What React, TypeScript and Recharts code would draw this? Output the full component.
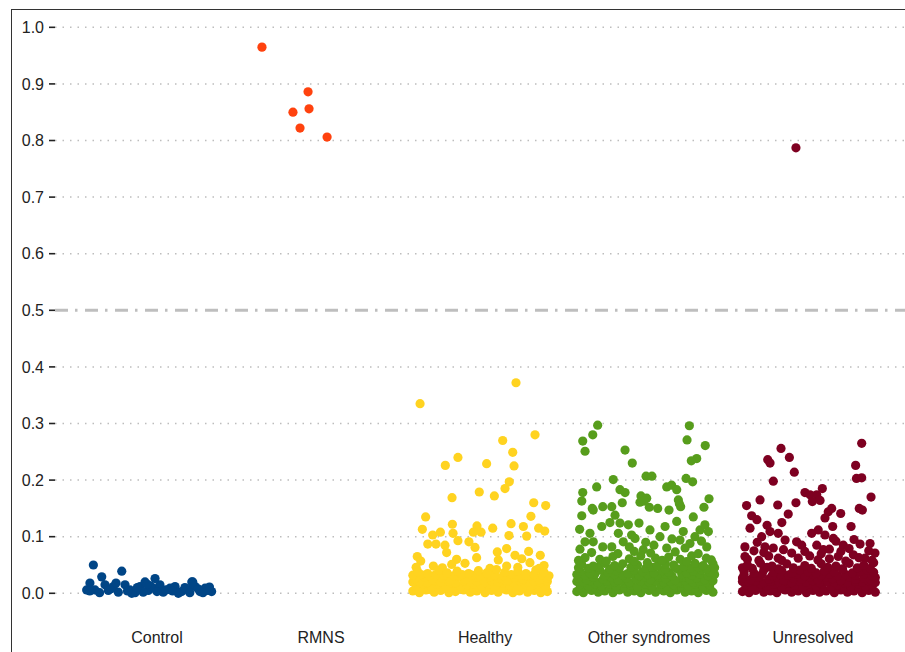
import React from "react";
import { ScatterChart, Scatter, XAxis, YAxis, ReferenceLine } from "recharts";

// categories along the x axis
const categories = ["Control", "RMNS", "Healthy", "Other syndromes", "Unresolved"];
const colors = ["#004586", "#FF420E", "#FFD320", "#579D1C", "#7E0021"];
const yTicks = [0, 0.1, 0.2, 0.3, 0.4, 0.5, 0.6, 0.7, 0.8, 0.9, 1.0];

// [jitter (category units), predicted value]
const control: [number, number][] = [
  [-0.388, 0.05], [-0.215, 0.039], [-0.337, 0.029], [-0.409, 0.018], [-0.429, 0.006],
  [-0.378, 0.006], [-0.317, 0.015], [-0.297, 0.005], [-0.266, 0.012], [-0.236, 0.002],
  [-0.195, 0.015], [-0.165, 0.006], [-0.134, 0.001], [-0.104, 0.012], [-0.073, 0.02],
  [-0.053, 0.005], [-0.012, 0.026], [-0.022, 0.009], [0.018, 0.015], [0.038, 0.002],
  [0.079, 0.009], [0.11, 0.012], [0.15, 0.003], [0.191, 0.006], [0.212, 0.02],
  [0.232, 0.012], [0.262, 0.003], [0.293, 0.009], [0.333, 0.003], [-0.084, 0.002],
  [-0.154, 0.0], [0.13, 0.0], [-0.35, 0.001], [-0.28, 0.008], [-0.25, 0.018],
  [-0.18, 0.004], [-0.12, 0.01], [-0.04, 0.013], [0.0, 0.003], [0.055, 0.006],
  [0.095, 0.004], [0.17, 0.01], [0.2, 0.001], [0.25, 0.008], [0.28, 0.001],
  [0.31, 0.005], [0.32, 0.011], [-0.41, 0.004], [-0.06, 0.016], [0.218, 0.02],
];

const rmns: [number, number][] = [
  [-0.36, 0.965], [-0.171, 0.85], [-0.128, 0.822], [-0.079, 0.886], [-0.073, 0.856], [0.037, 0.806],
];

const healthy: [number, number][] = [
  [0.189, 0.372], [-0.396, 0.335], [0.305, 0.28], [0.108, 0.27], [0.169, 0.249],
  [-0.165, 0.24], [-0.242, 0.226], [0.01, 0.229], [0.177, 0.225], [0.148, 0.197],
  [0.122, 0.185], [-0.035, 0.179], [0.057, 0.172], [-0.201, 0.169], [0.297, 0.16],
  [0.37, 0.155], [-0.362, 0.135], [0.28, 0.136], [-0.382, 0.113], [-0.199, 0.122],
  [-0.049, 0.119], [0.047, 0.115], [0.159, 0.123], [0.234, 0.118], [0.327, 0.115],
  [0.364, 0.11], [-0.319, 0.103], [-0.272, 0.108], [-0.195, 0.106], [-0.071, 0.108],
  [-0.024, 0.108], [0.146, 0.102], [0.254, 0.101], [-0.349, 0.087], [-0.299, 0.087],
  [-0.244, 0.085], [-0.165, 0.093], [-0.098, 0.091], [-0.061, 0.081], [-0.234, 0.072],
  [0.132, 0.079], [0.075, 0.073], [-0.413, 0.065], [0.183, 0.067], [0.266, 0.074],
  [0.337, 0.067], [0.081, 0.059], [-0.173, 0.06], [-0.051, 0.063], [0.224, 0.061],
  [0.274, 0.054], [0.36, 0.049], [-0.392, 0.057], [-0.315, 0.048], [-0.203, 0.051],
  [-0.122, 0.053], [0.03, 0.044], [0.132, 0.048], [-0.42, 0.046], [-0.26, 0.045],
  [0.2, 0.046], [0.33, 0.044],
  [-0.44, 0.004], [-0.4, 0.001], [-0.36, 0.006], [-0.31, 0.002], [-0.27, 0.005],
  [-0.22, 0.001], [-0.18, 0.003], [-0.13, 0.006], [-0.09, 0.002], [-0.05, 0.004],
  [0.0, 0.001], [0.04, 0.005], [0.08, 0.002], [0.13, 0.006], [0.17, 0.001],
  [0.21, 0.004], [0.26, 0.002], [0.3, 0.005], [0.34, 0.001], [0.38, 0.003],
  [-0.42, 0.008], [-0.38, 0.009], [-0.34, 0.007], [-0.29, 0.01], [-0.25, 0.008],
  [-0.2, 0.009], [-0.16, 0.007], [-0.11, 0.01], [-0.07, 0.008], [-0.03, 0.009],
  [0.02, 0.007], [0.06, 0.01], [0.1, 0.008], [0.15, 0.009], [0.19, 0.007],
  [0.23, 0.01], [0.28, 0.008], [0.32, 0.009], [0.36, 0.007],
  [-0.42, 0.014], [-0.38, 0.017], [-0.33, 0.012], [-0.29, 0.016], [-0.24, 0.013],
  [-0.2, 0.018], [-0.15, 0.012], [-0.11, 0.015], [-0.07, 0.017], [-0.02, 0.013],
  [0.02, 0.016], [0.06, 0.012], [0.11, 0.018], [0.15, 0.014], [0.19, 0.012],
  [0.24, 0.017], [0.28, 0.013], [0.32, 0.016], [0.37, 0.012],
  [-0.44, 0.02], [-0.4, 0.021], [-0.35, 0.019], [-0.31, 0.022], [-0.27, 0.02],
  [-0.22, 0.021], [-0.18, 0.019], [-0.13, 0.022], [-0.09, 0.02], [-0.05, 0.021],
  [0.0, 0.019], [0.04, 0.022], [0.08, 0.02], [0.13, 0.021], [0.17, 0.019],
  [0.21, 0.022], [0.26, 0.02], [0.3, 0.021], [0.34, 0.019], [0.38, 0.021],
  [-0.43, 0.026], [-0.37, 0.029], [-0.32, 0.024], [-0.26, 0.027], [-0.21, 0.023],
  [-0.16, 0.03], [-0.12, 0.025], [-0.06, 0.028], [-0.01, 0.024], [0.03, 0.029],
  [0.09, 0.026], [0.14, 0.023], [0.18, 0.028], [0.23, 0.025], [0.27, 0.03],
  [0.33, 0.024], [0.38, 0.027],
  [-0.44, 0.032], [-0.39, 0.033], [-0.34, 0.031], [-0.3, 0.033], [-0.25, 0.032],
  [-0.19, 0.031], [-0.14, 0.033], [-0.08, 0.032], [-0.03, 0.031], [0.02, 0.033],
  [0.06, 0.032], [0.11, 0.031], [0.16, 0.033], [0.21, 0.032], [0.25, 0.031],
  [0.3, 0.033], [0.35, 0.032], [0.39, 0.031],
  [-0.41, 0.038], [-0.35, 0.035], [-0.28, 0.041], [-0.23, 0.036], [-0.17, 0.039],
  [-0.1, 0.035], [-0.04, 0.04], [0.01, 0.036], [0.07, 0.042], [0.12, 0.037],
  [0.2, 0.039], [0.25, 0.035], [0.31, 0.041], [0.36, 0.037],
];

const otherSyndromes: [number, number][] = [
  [-0.313, 0.297], [0.246, 0.296], [-0.343, 0.28], [-0.404, 0.269], [-0.39, 0.251],
  [0.232, 0.271], [0.343, 0.261], [-0.146, 0.253], [-0.102, 0.23], [0.291, 0.238],
  [0.258, 0.234], [-0.018, 0.207], [0.018, 0.207], [-0.218, 0.201], [0.226, 0.203],
  [0.266, 0.197], [-0.319, 0.188], [-0.404, 0.178], [-0.177, 0.183], [-0.146, 0.178],
  [0.108, 0.188], [0.138, 0.191], [0.169, 0.183], [-0.049, 0.172], [-0.014, 0.168],
  [-0.41, 0.163], [-0.163, 0.16], [-0.055, 0.161], [0.179, 0.165], [0.366, 0.167],
  [-0.346, 0.15], [-0.282, 0.153], [-0.227, 0.153], [0.002, 0.152], [0.053, 0.15],
  [0.122, 0.147], [0.193, 0.153], [0.335, 0.152], [0.185, 0.158], [-0.03, 0.163],
  [-0.41, 0.137], [-0.34, 0.147], [-0.207, 0.138], [-0.288, 0.118], [-0.238, 0.125],
  [-0.177, 0.124], [-0.126, 0.121], [-0.061, 0.124], [0.006, 0.112], [0.098, 0.118],
  [0.169, 0.127], [0.27, 0.135], [0.311, 0.112], [0.341, 0.121], [0.362, 0.109],
  [-0.423, 0.113], [-0.36, 0.106], [-0.187, 0.106], [-0.106, 0.103], [0.209, 0.109],
  [-0.39, 0.091], [-0.34, 0.091], [-0.282, 0.082], [-0.227, 0.082], [-0.157, 0.091],
  [-0.085, 0.097], [0.067, 0.1], [0.189, 0.094], [0.25, 0.088], [-0.421, 0.078],
  [0.352, 0.082], [-0.035, 0.077], [0.108, 0.08], [-0.02, 0.09], [0.03, 0.085],
  [0.14, 0.096], [0.28, 0.1], [0.32, 0.092], [-0.12, 0.082], [0.22, 0.08],
  [-0.44, 0.003], [-0.4, 0.001], [-0.35, 0.005], [-0.31, 0.002], [-0.27, 0.004],
  [-0.22, 0.001], [-0.18, 0.006], [-0.13, 0.002], [-0.09, 0.004], [-0.05, 0.001],
  [0.0, 0.005], [0.04, 0.002], [0.09, 0.004], [0.13, 0.001], [0.17, 0.006],
  [0.22, 0.002], [0.26, 0.004], [0.3, 0.001], [0.35, 0.005], [0.39, 0.002],
  [-0.42, 0.009], [-0.38, 0.008], [-0.33, 0.01], [-0.29, 0.007], [-0.24, 0.009],
  [-0.2, 0.008], [-0.15, 0.01], [-0.11, 0.007], [-0.07, 0.009], [-0.02, 0.008],
  [0.02, 0.01], [0.07, 0.007], [0.11, 0.009], [0.15, 0.008], [0.2, 0.01],
  [0.24, 0.007], [0.28, 0.009], [0.33, 0.008], [0.37, 0.01],
  [-0.42, 0.015], [-0.37, 0.012], [-0.33, 0.017], [-0.29, 0.013], [-0.24, 0.016],
  [-0.2, 0.012], [-0.15, 0.018], [-0.11, 0.014], [-0.07, 0.011], [-0.02, 0.016],
  [0.02, 0.013], [0.07, 0.017], [0.11, 0.012], [0.15, 0.015], [0.2, 0.018],
  [0.24, 0.013], [0.28, 0.016], [0.33, 0.012], [0.37, 0.015],
  [-0.44, 0.021], [-0.4, 0.02], [-0.36, 0.022], [-0.31, 0.019], [-0.26, 0.021],
  [-0.21, 0.02], [-0.17, 0.022], [-0.12, 0.019], [-0.05, 0.021], [0.0, 0.02],
  [0.04, 0.022], [0.09, 0.019], [0.13, 0.021], [0.18, 0.02], [0.22, 0.022],
  [0.27, 0.019], [0.31, 0.021], [0.35, 0.02], [0.39, 0.022],
  [-0.43, 0.027], [-0.38, 0.024], [-0.34, 0.029], [-0.28, 0.025], [-0.23, 0.028],
  [-0.19, 0.023], [-0.14, 0.027], [-0.08, 0.025], [-0.03, 0.029], [0.01, 0.024],
  [0.06, 0.028], [0.1, 0.026], [0.16, 0.023], [0.21, 0.029], [0.25, 0.025],
  [0.29, 0.027], [0.34, 0.024], [0.38, 0.028],
  [-0.44, 0.033], [-0.39, 0.032], [-0.33, 0.034], [-0.27, 0.031], [-0.21, 0.033],
  [-0.16, 0.032], [-0.11, 0.034], [-0.06, 0.031], [-0.01, 0.033], [0.05, 0.032],
  [0.1, 0.034], [0.14, 0.031], [0.2, 0.033], [0.26, 0.032], [0.31, 0.034],
  [0.36, 0.031], [0.4, 0.033],
  [-0.42, 0.039], [-0.36, 0.036], [-0.3, 0.041], [-0.25, 0.037], [-0.2, 0.04],
  [-0.13, 0.035], [-0.09, 0.041], [-0.04, 0.038], [0.03, 0.036], [0.08, 0.04],
  [0.12, 0.037], [0.18, 0.042], [0.23, 0.036], [0.27, 0.039], [0.32, 0.041],
  [0.37, 0.037],
  [-0.43, 0.045], [-0.37, 0.044], [-0.31, 0.046], [-0.24, 0.043], [-0.18, 0.045],
  [-0.11, 0.046], [-0.02, 0.044], [0.02, 0.046], [0.1, 0.043], [0.16, 0.045],
  [0.25, 0.044], [0.3, 0.046], [0.35, 0.043], [0.4, 0.045],
  [-0.41, 0.051], [-0.34, 0.048], [-0.27, 0.053], [-0.21, 0.049], [-0.16, 0.052],
  [-0.07, 0.05], [-0.01, 0.054], [0.05, 0.048], [0.1, 0.052], [0.15, 0.05],
  [0.21, 0.047], [0.28, 0.053], [0.33, 0.049], [0.39, 0.052],
  [-0.39, 0.063], [-0.3, 0.06], [-0.22, 0.065], [-0.12, 0.061], [-0.05, 0.066],
  [0.04, 0.062], [0.12, 0.064], [0.19, 0.06], [0.26, 0.066], [0.35, 0.062],
  [-0.43, 0.058], [-0.26, 0.057], [-0.09, 0.057], [0.08, 0.058], [0.23, 0.056], [0.38, 0.059],
  [-0.35, 0.072], [-0.19, 0.07], [-0.09, 0.074], [0.01, 0.071], [0.16, 0.073], [0.3, 0.07],
];

const unresolved: [number, number][] = [
  [-0.104, 0.787],
  [0.297, 0.265], [-0.195, 0.256], [-0.276, 0.236], [-0.262, 0.23], [-0.144, 0.24],
  [-0.114, 0.214], [0.26, 0.226], [0.265, 0.203], [0.297, 0.204], [-0.242, 0.198],
  [-0.049, 0.178], [-0.018, 0.174], [0.057, 0.185], [0.023, 0.174], [-0.004, 0.162],
  [0.043, 0.164], [0.354, 0.17], [-0.323, 0.165], [-0.405, 0.155], [-0.215, 0.156],
  [-0.104, 0.16], [-0.151, 0.14], [0.114, 0.15], [0.093, 0.144], [0.169, 0.141],
  [0.282, 0.15], [0.301, 0.147], [-0.374, 0.137], [0.073, 0.133],
  [-0.384, 0.115], [-0.342, 0.13], [0.232, 0.118], [-0.313, 0.1], [-0.262, 0.109],
  [-0.212, 0.106], [-0.008, 0.106], [0.032, 0.112], [0.073, 0.103], [0.124, 0.097],
  [-0.1, 0.091], [-0.069, 0.085], [-0.415, 0.082], [-0.293, 0.082], [-0.242, 0.08],
  [0.023, 0.085], [0.063, 0.077], [0.185, 0.085], [0.287, 0.087], [0.348, 0.088],
  [0.378, 0.071], [-0.415, 0.065], [-0.212, 0.062], [-0.13, 0.071], [0.154, 0.065],
  [0.246, 0.068], [0.317, 0.062],
  [-0.4, 0.06], [-0.33, 0.058], [-0.27, 0.066], [-0.19, 0.058], [-0.09, 0.062],
  [-0.02, 0.066], [0.03, 0.059], [0.1, 0.061], [0.2, 0.057], [0.28, 0.063],
  [0.36, 0.058], [-0.36, 0.075], [-0.3, 0.072], [-0.18, 0.077], [-0.05, 0.074],
  [0.05, 0.07], [0.1, 0.078], [0.17, 0.074], [0.22, 0.079], [0.34, 0.075],
  [-0.34, 0.09], [-0.17, 0.094], [0.14, 0.092], [0.25, 0.095], [-0.28, 0.12],
  [0.12, 0.118], [-0.19, 0.125],
  [-0.43, 0.003], [-0.39, 0.001], [-0.35, 0.005], [-0.3, 0.002], [-0.26, 0.004],
  [-0.22, 0.001], [-0.17, 0.006], [-0.13, 0.002], [-0.09, 0.004], [-0.04, 0.001],
  [0.0, 0.005], [0.04, 0.002], [0.08, 0.004], [0.13, 0.001], [0.17, 0.006],
  [0.21, 0.002], [0.25, 0.004], [0.3, 0.001], [0.34, 0.005], [0.38, 0.002],
  [-0.41, 0.009], [-0.37, 0.008], [-0.33, 0.01], [-0.28, 0.007], [-0.24, 0.009],
  [-0.19, 0.008], [-0.15, 0.01], [-0.11, 0.007], [-0.06, 0.009], [-0.02, 0.008],
  [0.02, 0.01], [0.06, 0.007], [0.11, 0.009], [0.15, 0.008], [0.19, 0.01],
  [0.23, 0.007], [0.28, 0.009], [0.32, 0.008], [0.36, 0.01],
  [-0.41, 0.015], [-0.37, 0.012], [-0.32, 0.017], [-0.28, 0.013], [-0.24, 0.016],
  [-0.19, 0.012], [-0.15, 0.018], [-0.11, 0.014], [-0.06, 0.011], [-0.02, 0.016],
  [0.02, 0.013], [0.06, 0.017], [0.11, 0.012], [0.15, 0.015], [0.19, 0.018],
  [0.23, 0.013], [0.28, 0.016], [0.32, 0.012], [0.36, 0.015],
  [-0.43, 0.021], [-0.39, 0.02], [-0.35, 0.022], [-0.3, 0.019], [-0.26, 0.021],
  [-0.21, 0.02], [-0.17, 0.022], [-0.13, 0.019], [-0.08, 0.021], [-0.04, 0.02],
  [0.0, 0.022], [0.04, 0.019], [0.09, 0.021], [0.13, 0.02], [0.17, 0.022],
  [0.21, 0.019], [0.26, 0.021], [0.3, 0.02], [0.34, 0.022], [0.38, 0.019],
  [-0.43, 0.027], [-0.38, 0.024], [-0.33, 0.029], [-0.27, 0.025], [-0.22, 0.028],
  [-0.18, 0.023], [-0.12, 0.027], [-0.07, 0.025], [-0.02, 0.029], [0.03, 0.024],
  [0.08, 0.028], [0.12, 0.026], [0.17, 0.023], [0.22, 0.029], [0.26, 0.025],
  [0.31, 0.027], [0.35, 0.024], [0.38, 0.028],
  [-0.42, 0.033], [-0.36, 0.032], [-0.31, 0.034], [-0.25, 0.031], [-0.2, 0.033],
  [-0.15, 0.032], [-0.1, 0.034], [-0.05, 0.031], [0.0, 0.033], [0.05, 0.032],
  [0.1, 0.034], [0.15, 0.031], [0.2, 0.033], [0.26, 0.032], [0.31, 0.034],
  [0.36, 0.031],
  [-0.42, 0.039], [-0.36, 0.036], [-0.3, 0.041], [-0.24, 0.037], [-0.19, 0.04],
  [-0.13, 0.035], [-0.08, 0.041], [-0.03, 0.038], [0.02, 0.036], [0.07, 0.04],
  [0.13, 0.037], [0.18, 0.042], [0.24, 0.036], [0.29, 0.039], [0.33, 0.041],
  [0.37, 0.037],
  [-0.43, 0.045], [-0.37, 0.044], [-0.28, 0.046], [-0.21, 0.043], [-0.12, 0.045],
  [-0.01, 0.044], [0.09, 0.046], [0.18, 0.043], [0.27, 0.045], [0.35, 0.044],
  [-0.4, 0.05], [-0.32, 0.053], [-0.25, 0.048], [-0.16, 0.052], [-0.05, 0.049],
  [0.05, 0.052], [0.14, 0.048], [0.22, 0.053], [0.31, 0.05], [0.37, 0.054],
];

const groups = [control, rmns, healthy, otherSyndromes, unresolved];

const toPoints = (idx: number, arr: [number, number][]) =>
  arr.map(([j, v]) => ({ x: idx + j, y: v }));

const Dot = (props: any) => {
  const { cx, cy, fill } = props;
  if (cx == null || cy == null) return null;
  return <circle cx={cx} cy={cy} r={4.6} fill={fill} />;
};

export default function App() {
  return (
    <div
      style={{
        position: "absolute",
        left: 0,
        top: 0,
        width: 905,
        height: 652,
        background: "#fff",
        fontFamily: "'Liberation Sans', Arial, sans-serif",
        overflow: "hidden",
      }}
    >
      <ScatterChart
        width={905}
        height={652}
        margin={{ top: 10, right: 0, bottom: 0, left: 0 }}
      >
        <XAxis
          type="number"
          dataKey="x"
          domain={[-0.622, 4.561]}
          ticks={[0, 1, 2, 3, 4]}
          interval={0}
          allowDataOverflow
          tickFormatter={(i: number) => categories[i] ?? ""}
          axisLine={false}
          tickLine={false}
          height={32}
          tickSize={6}
          tickMargin={6}
          tick={{ fill: "#222", fontSize: 16 }}
        />
        <YAxis
          type="number"
          dataKey="y"
          domain={[-0.0472, 1.0306]}
          ticks={yTicks}
          interval={0}
          allowDataOverflow
          tickFormatter={(v: number) => v.toFixed(1)}
          axisLine={false}
          tickLine={{ stroke: "#222", strokeWidth: 1.6 }}
          width={55}
          tickSize={6}
          tickMargin={5}
          tick={{ fill: "#222", fontSize: 16 }}
        />
        {yTicks
          .filter((t) => t !== 0.5)
          .map((t) => (
            <ReferenceLine
              key={t}
              y={t}
              stroke="#BDBDBD"
              strokeWidth={1.5}
              strokeDasharray="1.5 6"
            />
          ))}
        <ReferenceLine
          y={0.5}
          stroke="#BEBEBE"
          strokeWidth={3}
          strokeDasharray="13 7 2.5 7.5"
        />
        {groups.map((g, i) => (
          <Scatter
            key={categories[i]}
            name={categories[i]}
            data={toPoints(i, g)}
            fill={colors[i]}
            shape={Dot}
            isAnimationActive={false}
          />
        ))}
      </ScatterChart>
      <div
        style={{
          position: "absolute",
          left: 11,
          top: 9,
          right: 0,
          bottom: 0,
          borderLeft: "1.5px solid #333",
          borderTop: "1.5px solid #333",
          pointerEvents: "none",
        }}
      />
    </div>
  );
}
